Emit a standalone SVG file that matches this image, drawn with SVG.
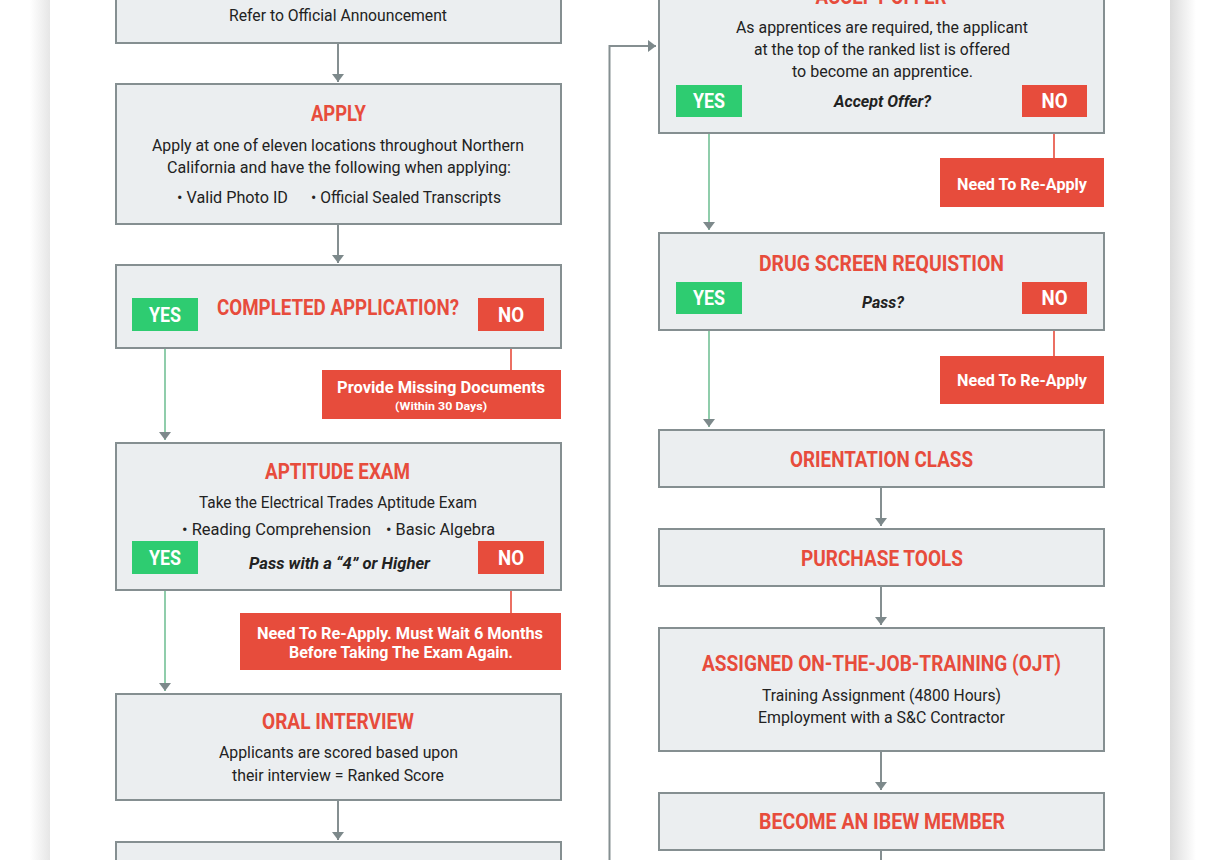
<svg xmlns="http://www.w3.org/2000/svg" width="1220" height="860" viewBox="0 0 1220 860">
<defs>
<linearGradient id="shL" x1="0" y1="0" x2="1" y2="0"><stop offset="0" stop-color="#ffffff"/><stop offset="1" stop-color="#e6e6e6"/></linearGradient>
<linearGradient id="shR" x1="0" y1="0" x2="1" y2="0"><stop offset="0" stop-color="#dcdcdc"/><stop offset="1" stop-color="#ffffff"/></linearGradient>
<marker id="ah" markerUnits="userSpaceOnUse" markerWidth="12" markerHeight="14" refX="8" refY="6" orient="auto"><path d="M0,0 L8,6 L0,12 Z" fill="#7d898b"/></marker>
<style>
.box{fill:#ebeef0;stroke:#858f91;stroke-width:2}
.red{fill:#e74c3c}
.grn{fill:#2ecc71}
.t{font-family:"Liberation Sans Narrow","Roboto","Liberation Sans",sans-serif;font-weight:bold;font-size:22px;fill:#e74c3c;text-anchor:middle}
.b{font-family:"Liberation Sans Narrow","Roboto","Liberation Sans",sans-serif;font-size:17px;fill:#222;text-anchor:middle}
.bl{font-family:"Liberation Sans Narrow","Roboto","Liberation Sans",sans-serif;font-size:17px;fill:#222}
.q{font-family:"Liberation Sans Narrow","Roboto","Liberation Sans",sans-serif;font-size:17px;font-weight:bold;font-style:italic;fill:#222;text-anchor:middle}
.w{font-family:"Liberation Sans Narrow","Roboto","Liberation Sans",sans-serif;font-weight:bold;font-size:21px;fill:#fff;text-anchor:middle}
.ws{font-family:"Liberation Sans Narrow","Roboto","Liberation Sans",sans-serif;font-weight:bold;font-size:16px;fill:#fff;text-anchor:middle}
.wx{font-family:"Liberation Sans Narrow","Roboto","Liberation Sans",sans-serif;font-weight:bold;font-size:11px;fill:#fff;text-anchor:middle}
.c{fill:none;stroke:#858f91;stroke-width:2}
.cg{fill:none;stroke:#74c196;stroke-width:1.6}
.cr{fill:none;stroke:#e74c3c;stroke-width:1.6}
</style>
</defs>
<rect x="0" y="0" width="1220" height="860" fill="#ffffff"/>
<rect x="30" y="0" width="20" height="860" fill="url(#shL)"/>
<rect x="1170" y="0" width="26" height="860" fill="url(#shR)"/>
<rect x="50" y="0" width="1120" height="860" fill="#ffffff"/>

<g id="connectors">
<line class="c" x1="338" y1="43" x2="338" y2="82" marker-end="url(#ah)"/>
<line class="c" x1="338" y1="224" x2="338" y2="263" marker-end="url(#ah)"/>
<line class="c" x1="338" y1="800" x2="338" y2="840" marker-end="url(#ah)"/>
<line class="cg" x1="165" y1="331" x2="165" y2="440" marker-end="url(#ah)"/>
<line class="cg" x1="165" y1="574" x2="165" y2="691" marker-end="url(#ah)"/>
<line class="cr" x1="511" y1="331" x2="511" y2="370"/>
<line class="cr" x1="511" y1="574" x2="511" y2="613"/>
<polyline class="c" points="609.5,860 609.5,46 656,46" marker-end="url(#ah)"/>
<line class="cg" x1="709" y1="117" x2="709" y2="230" marker-end="url(#ah)"/>
<line class="cr" x1="1054" y1="117" x2="1054" y2="158"/>
<line class="cg" x1="709" y1="314" x2="709" y2="427" marker-end="url(#ah)"/>
<line class="cr" x1="1054" y1="314" x2="1054" y2="356"/>
<line class="c" x1="881" y1="487" x2="881" y2="526" marker-end="url(#ah)"/>
<line class="c" x1="881" y1="586" x2="881" y2="625" marker-end="url(#ah)"/>
<line class="c" x1="881" y1="751" x2="881" y2="790" marker-end="url(#ah)"/>
<line class="c" x1="881" y1="850" x2="881" y2="862"/>
</g>

<g id="announcement">
<rect class="box" x="116" y="-60" width="445" height="103"/>
<text class="b" x="338" y="21" textLength="218" lengthAdjust="spacingAndGlyphs">Refer to Official Announcement</text>
</g>

<g id="apply">
<rect class="box" x="116" y="84" width="445" height="140"/>
<text class="t" x="338.5" y="121" textLength="55" lengthAdjust="spacingAndGlyphs">APPLY</text>
<text class="b" x="338" y="151" textLength="372" lengthAdjust="spacingAndGlyphs">Apply at one of eleven locations throughout Northern</text>
<text class="b" x="339" y="173" textLength="344" lengthAdjust="spacingAndGlyphs">California and have the following when applying:</text>
<text class="bl" x="177" y="203" textLength="111" lengthAdjust="spacingAndGlyphs">•  Valid Photo ID</text>
<text class="bl" x="311" y="203" textLength="190" lengthAdjust="spacingAndGlyphs">• Official Sealed Transcripts</text>
</g>

<g id="completed">
<rect class="box" x="116" y="265" width="445" height="83"/>
<text class="t" x="338" y="315" textLength="242" lengthAdjust="spacingAndGlyphs">COMPLETED APPLICATION?</text>
<rect class="grn" x="132" y="298" width="66" height="33"/>
<text class="w" x="165" y="322" textLength="32" lengthAdjust="spacingAndGlyphs">YES</text>
<rect class="red" x="478" y="298" width="66" height="33"/>
<text class="w" x="511" y="322" textLength="26" lengthAdjust="spacingAndGlyphs">NO</text>
</g>

<g id="missing">
<rect class="red" x="322" y="370" width="239" height="49"/>
<text class="ws" x="441" y="393" textLength="208" lengthAdjust="spacingAndGlyphs">Provide Missing Documents</text>
<text class="wx" x="441" y="410" textLength="92" lengthAdjust="spacingAndGlyphs">(Within 30 Days)</text>
</g>

<g id="aptitude">
<rect class="box" x="116" y="443" width="445" height="147"/>
<text class="t" x="337.5" y="479" textLength="145" lengthAdjust="spacingAndGlyphs">APTITUDE EXAM</text>
<text class="b" x="338" y="508" textLength="278" lengthAdjust="spacingAndGlyphs">Take the Electrical Trades Aptitude Exam</text>
<text class="bl" x="182" y="535" textLength="189" lengthAdjust="spacingAndGlyphs">•  Reading Comprehension</text>
<text class="bl" x="386" y="535" textLength="109" lengthAdjust="spacingAndGlyphs">•  Basic Algebra</text>
<text class="q" x="339.5" y="569" textLength="181" lengthAdjust="spacingAndGlyphs">Pass with a “4” or Higher</text>
<rect class="grn" x="132" y="541" width="66" height="33"/>
<text class="w" x="165" y="565" textLength="32" lengthAdjust="spacingAndGlyphs">YES</text>
<rect class="red" x="478" y="541" width="66" height="33"/>
<text class="w" x="511" y="565" textLength="26" lengthAdjust="spacingAndGlyphs">NO</text>
</g>

<g id="wait">
<rect class="red" x="240" y="613" width="321" height="57"/>
<text class="ws" x="400" y="639" textLength="286" lengthAdjust="spacingAndGlyphs">Need To Re-Apply. Must Wait 6 Months</text>
<text class="ws" x="401" y="658" textLength="224" lengthAdjust="spacingAndGlyphs">Before Taking The Exam Again.</text>
</g>

<g id="oral">
<rect class="box" x="116" y="694" width="445" height="106"/>
<text class="t" x="338" y="729" textLength="152" lengthAdjust="spacingAndGlyphs">ORAL INTERVIEW</text>
<text class="b" x="338.5" y="758" textLength="239" lengthAdjust="spacingAndGlyphs">Applicants are scored based upon</text>
<text class="b" x="338" y="781" textLength="212" lengthAdjust="spacingAndGlyphs">their interview = Ranked Score</text>
</g>

<g id="next-left">
<rect class="box" x="116" y="842" width="445" height="40"/>
</g>

<g id="accept">
<rect class="box" x="659" y="-60" width="445" height="193"/>
<text class="t" x="881" y="4" textLength="131" lengthAdjust="spacingAndGlyphs">ACCEPT OFFER</text>
<text class="b" x="882" y="33" textLength="292" lengthAdjust="spacingAndGlyphs">As apprentices are required, the applicant</text>
<text class="b" x="882" y="55" textLength="256" lengthAdjust="spacingAndGlyphs">at the top of the ranked list is offered</text>
<text class="b" x="882.5" y="77" textLength="181" lengthAdjust="spacingAndGlyphs">to become an apprentice.</text>
<text class="q" x="882.5" y="107" textLength="97" lengthAdjust="spacingAndGlyphs">Accept Offer?</text>
<rect class="grn" x="676" y="85" width="66" height="32"/>
<text class="w" x="709" y="108" textLength="32" lengthAdjust="spacingAndGlyphs">YES</text>
<rect class="red" x="1022" y="85" width="65" height="32"/>
<text class="w" x="1054.5" y="108" textLength="26" lengthAdjust="spacingAndGlyphs">NO</text>
</g>

<g id="reapply1">
<rect class="red" x="940" y="158" width="164" height="49"/>
<text class="ws" x="1022" y="190" textLength="130" lengthAdjust="spacingAndGlyphs">Need To Re-Apply</text>
</g>

<g id="drug">
<rect class="box" x="659" y="233" width="445" height="97"/>
<text class="t" x="881.5" y="271" textLength="245" lengthAdjust="spacingAndGlyphs">DRUG SCREEN REQUISTION</text>
<text class="q" x="883" y="308" textLength="42" lengthAdjust="spacingAndGlyphs">Pass?</text>
<rect class="grn" x="676" y="282" width="66" height="32"/>
<text class="w" x="709" y="305" textLength="32" lengthAdjust="spacingAndGlyphs">YES</text>
<rect class="red" x="1022" y="282" width="65" height="32"/>
<text class="w" x="1054.5" y="305" textLength="26" lengthAdjust="spacingAndGlyphs">NO</text>
</g>

<g id="reapply2">
<rect class="red" x="940" y="356" width="164" height="48"/>
<text class="ws" x="1022" y="386" textLength="130" lengthAdjust="spacingAndGlyphs">Need To Re-Apply</text>
</g>

<g id="orientation">
<rect class="box" x="659" y="430" width="445" height="57"/>
<text class="t" x="881.5" y="467" textLength="183" lengthAdjust="spacingAndGlyphs">ORIENTATION CLASS</text>
</g>

<g id="tools">
<rect class="box" x="659" y="529" width="445" height="57"/>
<text class="t" x="882" y="566" textLength="162" lengthAdjust="spacingAndGlyphs">PURCHASE TOOLS</text>
</g>

<g id="ojt">
<rect class="box" x="659" y="628" width="445" height="123"/>
<text class="t" x="881.5" y="671" textLength="359" lengthAdjust="spacingAndGlyphs">ASSIGNED ON-THE-JOB-TRAINING (OJT)</text>
<text class="b" x="881.5" y="701" textLength="239" lengthAdjust="spacingAndGlyphs">Training Assignment (4800 Hours)</text>
<text class="b" x="881.5" y="723" textLength="247" lengthAdjust="spacingAndGlyphs">Employment with a S&amp;C Contractor</text>
</g>

<g id="ibew">
<rect class="box" x="659" y="793" width="445" height="57"/>
<text class="t" x="882" y="829" textLength="246" lengthAdjust="spacingAndGlyphs">BECOME AN IBEW MEMBER</text>
</g>
</svg>
